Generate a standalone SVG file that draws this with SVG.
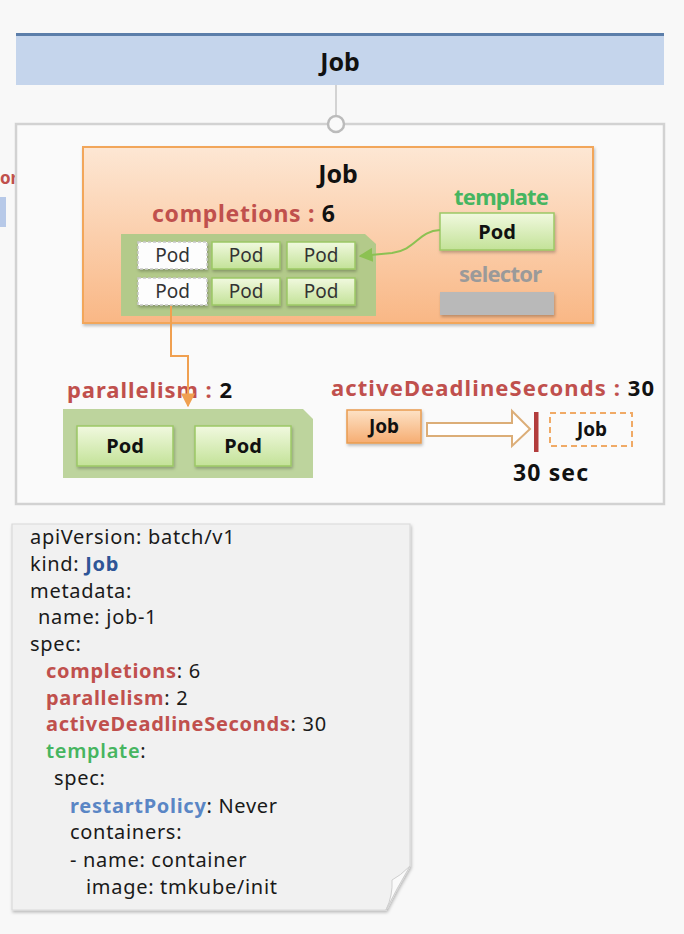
<svg xmlns="http://www.w3.org/2000/svg" width="684" height="934" viewBox="0 0 684 934">
<defs>
<linearGradient id="gOrange" x1="0" y1="0" x2="0" y2="1"><stop offset="0" stop-color="#fde7d4"/><stop offset="1" stop-color="#f9b785"/></linearGradient>
<linearGradient id="gJob" x1="0" y1="0" x2="0" y2="1"><stop offset="0" stop-color="#fde2c6"/><stop offset="1" stop-color="#f6ad72"/></linearGradient>
<linearGradient id="gPod" x1="0" y1="0" x2="0" y2="1"><stop offset="0" stop-color="#f1f9df"/><stop offset="1" stop-color="#c3e298"/></linearGradient>
<filter id="sh" x="-10%" y="-10%" width="130%" height="140%"><feDropShadow dx="1" dy="2" stdDeviation="1.5" flood-color="#000" flood-opacity="0.25"/></filter>
<marker id="mOrange" viewBox="0 0 10 10" refX="9" refY="5" markerWidth="7" markerHeight="7" orient="auto"><path d="M0,0 L10,5 L0,10 Z" fill="#f0a050"/></marker>
<marker id="mGreen" viewBox="0 0 10 10" refX="9" refY="5" markerWidth="7" markerHeight="7" orient="auto"><path d="M0,0 L10,5 L0,10 Z" fill="#8cc152"/></marker>
<style>
text{font-family:"Noto Sans","Liberation Sans",sans-serif}
.b{font-weight:bold}
.red{fill:#c0504d}
.blk{fill:#111}
.pod{fill:url(#gPod);stroke:#9cc865;stroke-width:1.5}
.podw{fill:#fdfdfd;stroke:#c8c8c8;stroke-width:1.5;stroke-dasharray:3 2}
.pt{font-size:19px;fill:#333;text-anchor:middle}
.pb{font-size:20px;font-weight:bold;fill:#111;text-anchor:middle}
.y{font-size:20px;fill:#1a1a1a;letter-spacing:0.7px}
.yr{fill:#c0504d;font-weight:bold}
</style>
</defs>
<rect width="684" height="934" fill="#f8f8f8"/>

<!-- cropped elements at left edge -->
<g id="left-cut">
<text x="0" y="184" class="b red" font-size="17">or</text>
<rect x="-10" y="197" width="16" height="30" fill="#b7c9e8"/>
</g>

<g id="header">
<rect x="16" y="34" width="648" height="51" fill="#c5d5ec"/>
<rect x="16" y="33" width="648" height="3" fill="#5c7eaa"/>
<text x="340" y="71" class="b blk" font-size="25" text-anchor="middle">Job</text>
</g>

<g id="frame">
<rect x="16" y="124" width="648" height="380" fill="#fafafa" stroke="#d2d2d2" stroke-width="2.5"/>
</g>

<g id="connectors">
<line x1="336" y1="85" x2="336" y2="116" stroke="#bbb" stroke-width="1.2"/>
<circle cx="336" cy="124" r="8" fill="#fafafa" stroke="#bbb" stroke-width="2.5"/>
</g>

<g id="job-box">
<rect x="83" y="147" width="510" height="176" fill="url(#gOrange)" stroke="#f2a65a" stroke-width="2" filter="url(#sh)"/>
<text x="338" y="183" class="b blk" font-size="25" text-anchor="middle">Job</text>
<text x="152" y="222" class="b" font-size="23" textLength="183"><tspan class="red">completions :</tspan><tspan class="blk"> 6</tspan></text>
</g>

<g id="pod-grid">
<path d="M121,234 H365 L376,244 V316 H121 Z" fill="#b3ca8a"/>
<rect x="138" y="242" width="69" height="27" class="podw" filter="url(#sh)"/>
<rect x="212" y="242" width="68" height="27" class="pod" filter="url(#sh)"/>
<rect x="287" y="242" width="68" height="27" class="pod" filter="url(#sh)"/>
<rect x="138" y="278" width="69" height="27" class="podw" filter="url(#sh)"/>
<rect x="212" y="278" width="68" height="27" class="pod" filter="url(#sh)"/>
<rect x="287" y="278" width="68" height="27" class="pod" filter="url(#sh)"/>
<text x="172.5" y="262" class="pt">Pod</text>
<text x="246" y="262" class="pt">Pod</text>
<text x="321" y="262" class="pt">Pod</text>
<text x="172.5" y="298" class="pt">Pod</text>
<text x="246" y="298" class="pt">Pod</text>
<text x="321" y="298" class="pt">Pod</text>
</g>

<g id="template">
<text x="454" y="205" class="b" font-size="22" fill="#46b560" textLength="95">template</text>
<rect x="440" y="213" width="114" height="37" class="pod" filter="url(#sh)"/>
<text x="497" y="239" class="pb">Pod</text>
</g>

<g id="selector">
<text x="459" y="282" class="b" font-size="22" fill="#9a9a9a" textLength="83">selector</text>
<rect x="440" y="292" width="114" height="23" fill="#b9b9b9" filter="url(#sh)"/>
</g>

<g id="parallelism">
<text x="67" y="398" class="b" font-size="22" textLength="165"><tspan class="red">parallelism :</tspan><tspan class="blk"> 2</tspan></text>
<path d="M63,409 H303 L313,419 V478 H63 Z" fill="#bdd49d"/>
<rect x="77" y="426" width="96" height="40" class="pod" filter="url(#sh)"/>
<rect x="195" y="426" width="96" height="40" class="pod" filter="url(#sh)"/>
<text x="125" y="453" class="pb">Pod</text>
<text x="243" y="453" class="pb">Pod</text>
</g>

<g id="deadline">
<text x="331" y="396" class="b" font-size="22" textLength="323"><tspan class="red">activeDeadlineSeconds :</tspan><tspan class="blk"> 30</tspan></text>
<rect x="347" y="410" width="74" height="33" fill="url(#gJob)" stroke="#e99c50" stroke-width="1.5" filter="url(#sh)"/>
<text x="384" y="433" class="b blk" font-size="19" text-anchor="middle">Job</text>
<path d="M427,423 H512 V411 L530,429 L512,446 V436 H427 Z" fill="#fff" stroke="#dcae78" stroke-width="2"/>
<rect x="534" y="412" width="4.5" height="40" fill="#b23c3c"/>
<rect x="550" y="413" width="82" height="33" fill="none" stroke="#f0aa66" stroke-width="2" stroke-dasharray="6 4"/>
<text x="592" y="436" class="b blk" font-size="19" text-anchor="middle">Job</text>
<text x="513" y="481" class="b blk" font-size="23" textLength="75">30 sec</text>
</g>

<g id="connectors-2">
<path d="M171,306 V356 H188 V406" fill="none" stroke="#f0a050" stroke-width="2" marker-end="url(#mOrange)"/>
<path d="M440,230 C418,231 416,250 392,253 L360,256" fill="none" stroke="#8cc152" stroke-width="2" marker-end="url(#mGreen)"/>
</g>

<g id="yaml">
<path d="M12,524 H410 V866 Q397,888 386,910 H12 Z" fill="#f1f1f1" stroke="#dadada" stroke-width="1.2" filter="url(#sh)"/>
<path d="M410,866 Q400,876 392,880 Q393,895 386,910 Q397,888 410,866 Z" fill="#fafafa" stroke="#cfcfcf" stroke-width="1"/>
<text x="30" y="544" class="y">apiVersion: batch/v1</text>
<text x="30" y="571" class="y">kind: <tspan font-weight="bold" fill="#2e5597">Job</tspan></text>
<text x="30" y="598" class="y">metadata:</text>
<text x="38" y="624" class="y">name: job-1</text>
<text x="30" y="651" class="y">spec:</text>
<text x="46" y="678" class="y"><tspan class="yr">completions</tspan>: 6</text>
<text x="46" y="705" class="y"><tspan class="yr">parallelism</tspan>: 2</text>
<text x="46" y="731" class="y"><tspan class="yr">activeDeadlineSeconds</tspan>: 30</text>
<text x="46" y="758" class="y"><tspan fill="#46b560" font-weight="600">template</tspan>:</text>
<text x="54" y="785" class="y">spec:</text>
<text x="70" y="813" class="y"><tspan fill="#5a86c5" font-weight="bold">restartPolicy</tspan>: Never</text>
<text x="70" y="839" class="y">containers:</text>
<text x="70" y="867" class="y">- name: container</text>
<text x="86" y="894" class="y">image: tmkube/init</text>
</g>
</svg>
